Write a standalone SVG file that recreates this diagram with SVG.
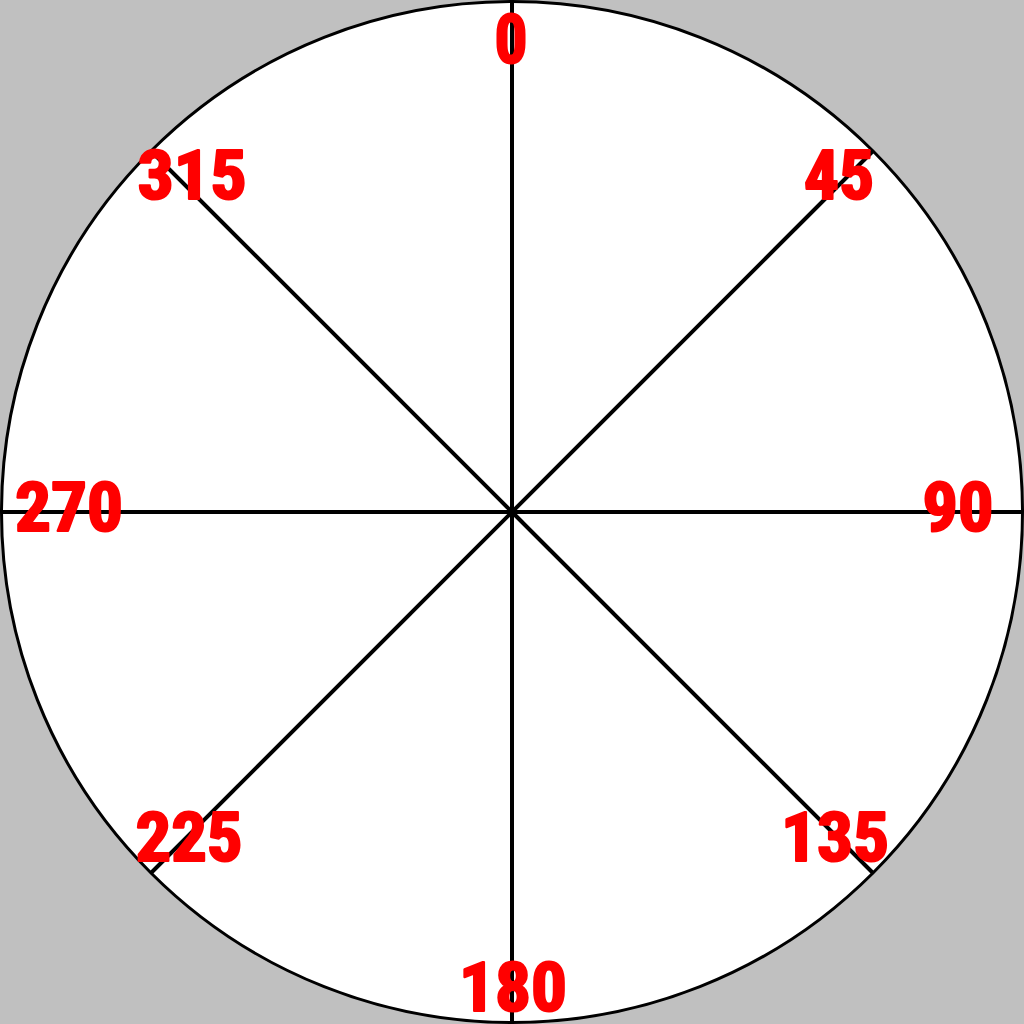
<svg xmlns="http://www.w3.org/2000/svg" width="1024" height="1024" viewBox="0 0 1024 1024">
<style>
.ln{stroke:#000;stroke-width:4;fill:none}
.lb{fill:#ff0000;stroke:#ff0000;stroke-width:2.2;stroke-linejoin:round;font-family:"Roboto Condensed","Liberation Sans Narrow","Liberation Sans",sans-serif;font-weight:bold;font-size:69px;text-anchor:middle}
</style>
<rect width="1024" height="1024" fill="#c0c0c0"/>
<circle cx="512" cy="512" r="510.5" fill="#fff" stroke="#000" stroke-width="3"/>
<g id="connectors">
<line class="ln" x1="512" y1="512" x2="512" y2="1"/>
<line class="ln" x1="512" y1="512" x2="873" y2="151"/>
<line class="ln" x1="512" y1="512" x2="1023" y2="512"/>
<line class="ln" x1="512" y1="512" x2="873" y2="873"/>
<line class="ln" x1="512" y1="512" x2="512" y2="1023"/>
<line class="ln" x1="512" y1="512" x2="151" y2="873"/>
<line class="ln" x1="512" y1="512" x2="1" y2="512"/>
<line class="ln" x1="512" y1="512" x2="151" y2="151"/>
</g>
<g id="l0"><text class="lb" x="511" y="63" textLength="33" lengthAdjust="spacingAndGlyphs">0</text></g>
<g id="l45"><text class="lb" x="839" y="199" textLength="70" lengthAdjust="spacingAndGlyphs">45</text></g>
<g id="l90"><text class="lb" x="958" y="531" textLength="71" lengthAdjust="spacingAndGlyphs">90</text></g>
<g id="l135"><text class="lb" x="835" y="861" textLength="108" lengthAdjust="spacingAndGlyphs">135</text></g>
<g id="l180"><text class="lb" x="513" y="1011" textLength="108" lengthAdjust="spacingAndGlyphs">180</text></g>
<g id="l225"><text class="lb" x="189" y="861" textLength="107" lengthAdjust="spacingAndGlyphs">225</text></g>
<g id="l270"><text class="lb" x="69" y="531" textLength="108" lengthAdjust="spacingAndGlyphs">270</text></g>
<g id="l315"><text class="lb" x="192" y="199" textLength="109" lengthAdjust="spacingAndGlyphs">315</text></g>
</svg>
